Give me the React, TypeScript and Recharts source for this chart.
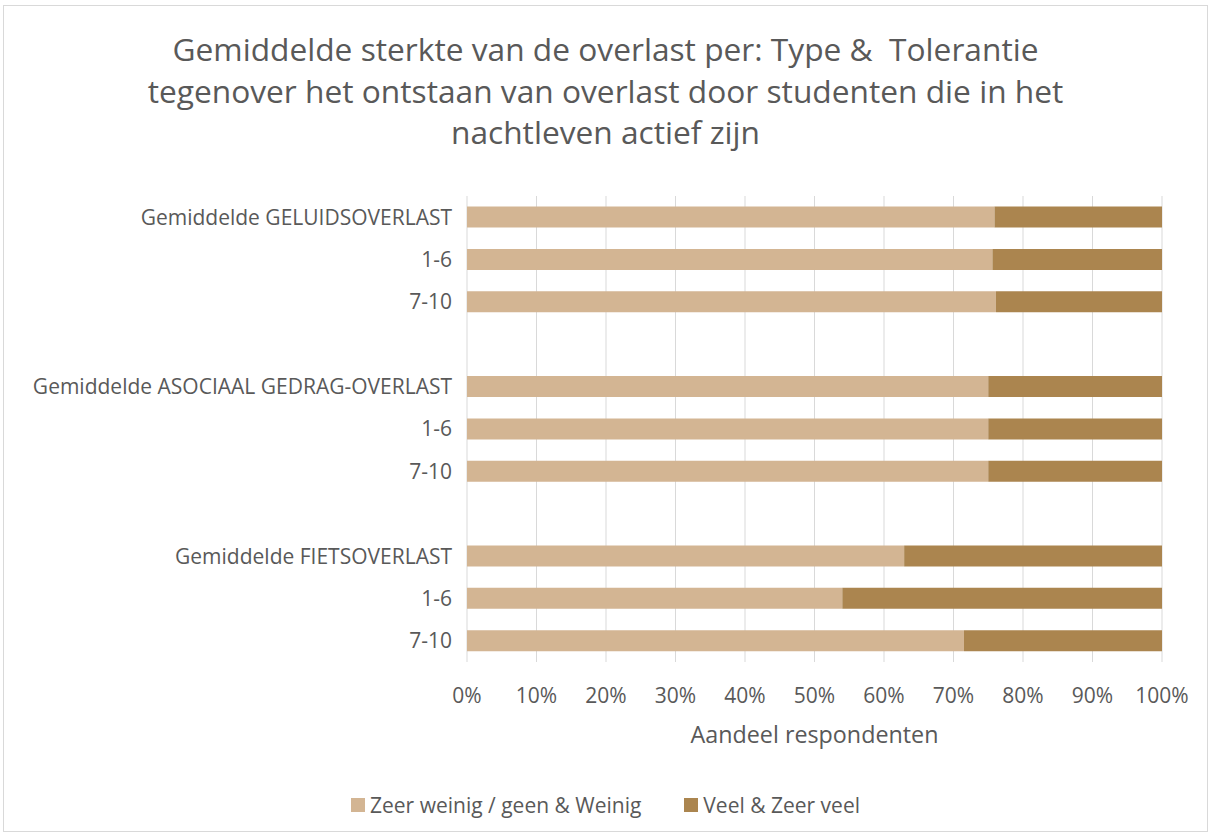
import React from 'react'
import { BarChart, Bar, XAxis, YAxis, CartesianGrid } from 'recharts'

const categories = [
  'Gemiddelde GELUIDSOVERLAST',
  '1-6',
  '7-10',
  '',
  'Gemiddelde ASOCIAAL GEDRAG-OVERLAST',
  '1-6',
  '7-10',
  '',
  'Gemiddelde FIETSOVERLAST',
  '1-6',
  '7-10'
]
const weinig = [75.9, 75.6, 76.1, null, 75.0, 75.0, 75.0, null, 62.9, 54.0, 71.5]
const veel = [24.1, 24.4, 23.9, null, 25.0, 25.0, 25.0, null, 37.1, 46.0, 28.5]
const xTicks = [0, 0.1, 0.2, 0.3, 0.4, 0.5, 0.6, 0.7, 0.8, 0.9, 1]
const seriesNames = ['Zeer weinig / geen & Weinig', 'Veel & Zeer veel']
const colors = ['#D3B593', '#AB854F']

const data = categories.map((c, i) => ({
  key: 'r' + i,
  label: c,
  weinig: weinig[i],
  veel: veel[i]
}))

const FONT = '"Open Sans", sans-serif'
const TXT = '#595959'

export default function App() {
  return (
    <div
      style={{
        position: 'absolute',
        left: 3,
        top: 5,
        width: 1203,
        height: 825,
        border: '1px solid #d9d9d9',
        background: '#fff'
      }}
    >
      <div
        style={{
          position: 'absolute',
          top: 22,
          left: 0,
          width: 1203,
          textAlign: 'center',
          fontFamily: FONT,
          fontSize: 31.7,
          lineHeight: '41.5px',
          color: TXT
        }}
      >
        Gemiddelde sterkte van de overlast per: Type &amp;&nbsp; Tolerantie
        <br />
        tegenover het ontstaan van overlast door studenten die in het
        <br />
        nachtleven actief zijn
      </div>
      <BarChart
        width={1203}
        height={825}
        data={data}
        layout='vertical'
        stackOffset='expand'
        barCategoryGap='25%'
        margin={{ top: 190, right: 45, left: 0, bottom: 119 }}
        style={{ position: 'absolute', left: 0, top: 0 }}
      >
        <CartesianGrid horizontal={false} stroke='#d9d9d9' />
        <XAxis
          type='number'
          domain={[0, 1]}
          ticks={xTicks}
          tickFormatter={(v: number) => Math.round(v * 100) + '%'}
          axisLine={false}
          tickLine={false}
          height={50}
          tickMargin={20}
          tick={{ fill: TXT, fontSize: 21, fontFamily: FONT }}
          label={{
            value: 'Aandeel respondenten',
            position: 'insideBottom',
            offset: -31,
            fill: TXT,
            fontSize: 23.3,
            fontFamily: FONT
          }}
        />
        <YAxis
          type='category'
          dataKey='key'
          width={463}
          axisLine={false}
          tickLine={false}
          tickMargin={9}
          interval={0}
          tickFormatter={(_v: string, i: number) => categories[i]}
          tick={{ fill: TXT, fontSize: 21, fontFamily: FONT }}
        />
        <Bar dataKey='weinig' stackId='a' fill={colors[0]} isAnimationActive={false} />
        <Bar dataKey='veel' stackId='a' fill={colors[1]} isAnimationActive={false} />
      </BarChart>
      <div
        style={{
          position: 'absolute',
          top: 785,
          left: 0,
          width: 1203,
          display: 'flex',
          justifyContent: 'center',
          fontFamily: FONT,
          fontSize: 21,
          color: TXT
        }}
      >
        {seriesNames.map((n, i) => (
          <div key={n} style={{ display: 'flex', alignItems: 'center', marginRight: i === 0 ? 43 : 0 }}>
            <span style={{ width: 14, height: 14, background: colors[i], display: 'inline-block', marginRight: 5 }} />
            <span>{n}</span>
          </div>
        ))}
      </div>
    </div>
  )
}
